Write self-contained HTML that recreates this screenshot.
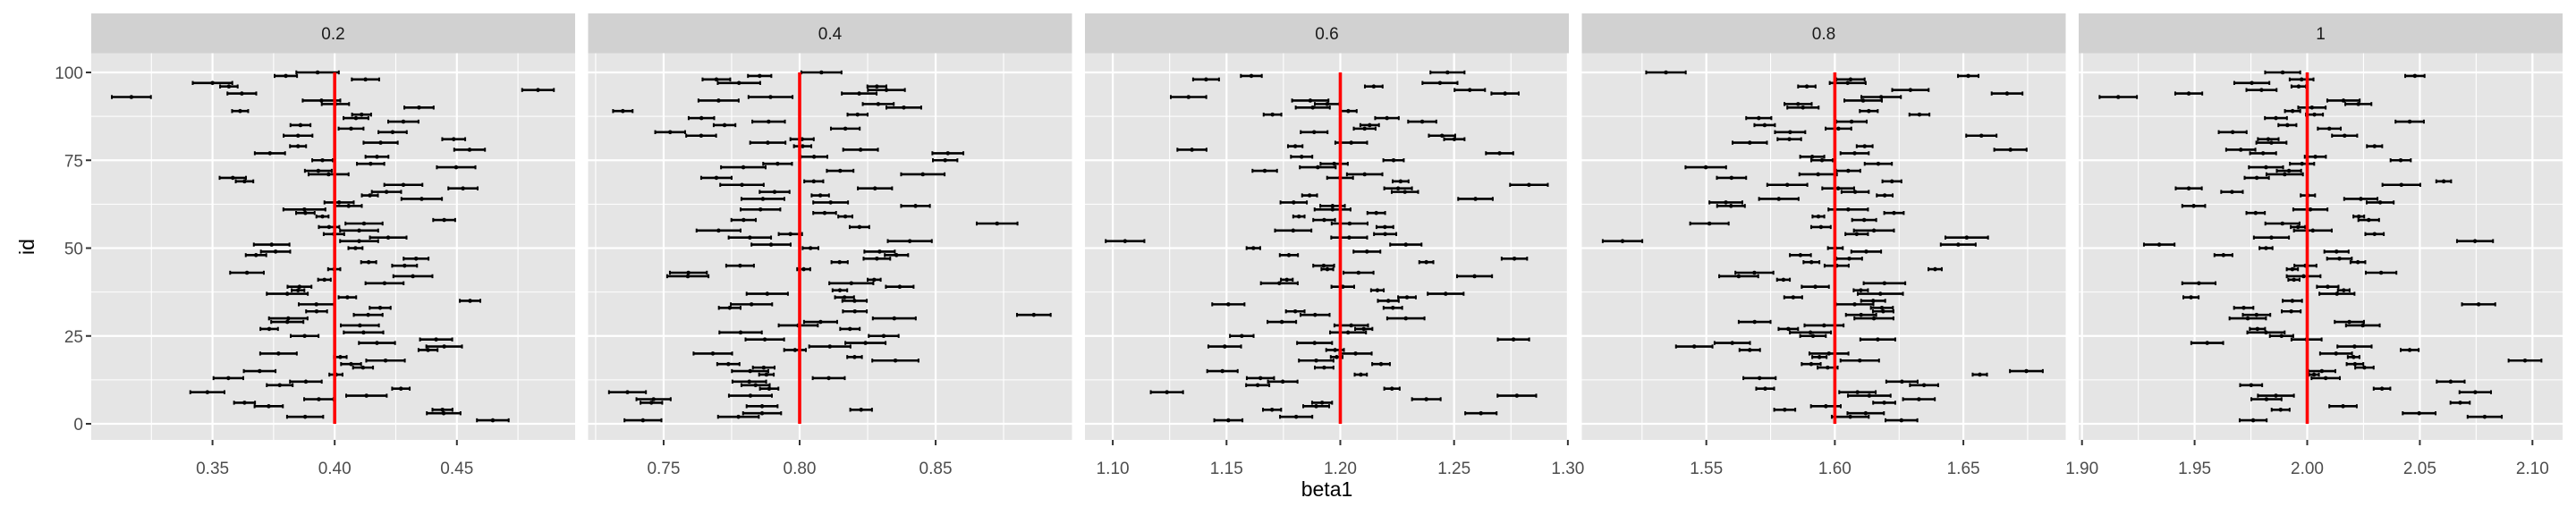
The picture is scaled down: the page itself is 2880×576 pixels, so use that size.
<!DOCTYPE html>
<html><head><meta charset="utf-8"><style>
html,body{margin:0;padding:0;background:#fff;}
svg{display:block;font-family:"Liberation Sans",Arial,sans-serif;}
</style></head><body>
<svg id="chart" width="2880" height="576" viewBox="0 0 2880 576" xmlns="http://www.w3.org/2000/svg"></svg>
<script>
// Facet labels, true values, axis ticks
const facetLabels = ["0.2","0.4","0.6","0.8","1"];
const trueValues = [0.40, 0.80, 1.20, 1.60, 2.00];
const xTicks = [[0.35,0.40,0.45],[0.75,0.80,0.85],[1.10,1.15,1.20,1.25,1.30],[1.55,1.60,1.65],[1.90,1.95,2.00,2.05,2.10]];
const xTickLabels = [["0.35","0.40","0.45"],["0.75","0.80","0.85"],["1.10","1.15","1.20","1.25","1.30"],["1.55","1.60","1.65"],["1.90","1.95","2.00","2.05","2.10"]];
const xDomains = [[0.30037,0.49839],[0.72223,0.90013],[1.08778,1.30044],[1.50157,1.68981],[1.89853,2.11338]];
const yTicks = [0,25,50,75,100];
// Estimates listed by id from 100 down to 1
const est1 = [.3930,.3800,.4126,.3500,.3567,.4832,.3620,.3168,.3946,.4003,.4345,.3613,.4110,.4087,.4281,.3860,.4067,.4237,.3850,.4487,.4188,.3850,.4552,.3735,.4173,.3950,.4147,.4497,.3933,.3975,.3583,.3631,.4281,.4525,.4212,.4144,.4356,.4018,.4057,.3876,.3880,.3950,.4448,.4120,.3977,.4100,.3997,.4219,.4100,.3742,.4085,.3758,.3678,.4333,.4139,.4286,.3998,.3641,.4320,.3958,.4204,.3856,.3850,.3806,.4052,.4554,.3925,.4186,.3926,.4137,.3810,.3806,.4103,.3732,.4118,.3877,.4415,.4173,.4448,.4382,.3770,.4023,.4208,.4067,.4116,.3693,.4005,.3565,.3882,.3775,.4271,.3479,.4130,.3935,.3631,.3730,.4441,.4446,.3879,.4647];
const half1 = [.0087,.0046,.0056,.0081,.0036,.0065,.0059,.0080,.0077,.0056,.0060,.0033,.0039,.0051,.0062,.0041,.0051,.0058,.0059,.0047,.0070,.0033,.0063,.0062,.0047,.0042,.0056,.0079,.0055,.0082,.0054,.0036,.0078,.0060,.0060,.0033,.0083,.0060,.0054,.0086,.0038,.0025,.0045,.0076,.0042,.0078,.0042,.0075,.0078,.0073,.0029,.0060,.0042,.0051,.0031,.0051,.0025,.0069,.0080,.0026,.0078,.0049,.0026,.0084,.0036,.0042,.0072,.0043,.0043,.0059,.0079,.0066,.0078,.0036,.0081,.0057,.0066,.0074,.0073,.0039,.0075,.0026,.0079,.0041,.0041,.0065,.0027,.0061,.0065,.0053,.0036,.0070,.0083,.0060,.0043,.0058,.0041,.0069,.0074,.0065];
const est2 = [.8080,.7853,.7694,.7777,.8284,.8319,.8219,.7893,.7702,.8289,.8383,.7350,.8213,.7639,.7886,.7724,.8168,.7524,.7638,.8009,.7883,.8011,.8224,.8545,.8053,.8535,.7919,.7793,.8149,.8453,.7694,.8052,.7788,.8277,.7908,.8076,.7865,.8114,.8426,.7856,.8092,.8168,.7794,.8726,.8220,.7702,.7966,.7817,.8405,.7895,.8040,.8294,.8356,.8284,.8147,.7781,.8015,.7591,.7589,.8274,.8190,.8368,.8148,.7881,.8165,.8202,.7823,.7743,.8203,.8861,.8348,.8077,.7995,.8185,.7783,.8309,.7872,.8242,.8111,.7983,.7681,.8202,.8352,.7738,.7868,.7818,.7878,.8107,.7815,.7838,.7888,.7367,.7819,.7463,.7455,.7862,.8226,.7862,.7775,.7424];
const half2 = [.0074,.0043,.0051,.0078,.0035,.0068,.0064,.0081,.0074,.0057,.0064,.0036,.0037,.0047,.0060,.0040,.0053,.0055,.0055,.0043,.0065,.0032,.0064,.0057,.0049,.0045,.0053,.0082,.0049,.0080,.0056,.0035,.0080,.0063,.0055,.0032,.0079,.0064,.0053,.0073,.0042,.0026,.0045,.0075,.0036,.0081,.0043,.0078,.0081,.0072,.0029,.0056,.0043,.0049,.0030,.0051,.0024,.0068,.0076,.0024,.0081,.0051,.0027,.0076,.0035,.0045,.0076,.0040,.0044,.0062,.0079,.0061,.0072,.0036,.0078,.0055,.0071,.0074,.0076,.0040,.0071,.0027,.0085,.0041,.0040,.0067,.0027,.0059,.0062,.0052,.0034,.0068,.0079,.0063,.0040,.0057,.0040,.0070,.0075,.0068];
const est3 = [1.2471,1.1609,1.1410,1.2438,1.2147,1.2569,1.2724,1.1333,1.1868,1.1942,1.1879,1.2035,1.1702,1.2205,1.2360,1.2129,1.2107,1.1885,1.2447,1.2501,1.2048,1.1802,1.1348,1.2700,1.1830,1.2234,1.1973,1.1901,1.1668,1.2107,1.1999,1.2265,1.2829,1.2254,1.2284,1.1865,1.2594,1.1795,1.1966,1.1966,1.2158,1.1818,1.1929,1.2041,1.2196,1.1793,1.2197,1.2039,1.1054,1.2288,1.1618,1.2117,1.1774,1.2765,1.2378,1.1927,1.1943,1.2080,1.2590,1.1765,1.1732,1.2011,1.2163,1.2463,1.2293,1.2211,1.1508,1.2231,1.1802,1.1889,1.2288,1.1743,1.2048,1.2103,1.2034,1.1567,1.2761,1.1887,1.1492,1.1977,1.2067,1.1984,1.1894,1.2179,1.1929,1.1482,1.2090,1.1649,1.1747,1.1637,1.2227,1.1238,1.2776,1.2378,1.1920,1.1894,1.1700,1.2618,1.1806,1.1508];
const half3 = [.0075,.0046,.0057,.0077,.0039,.0067,.0060,.0078,.0080,.0054,.0075,.0037,.0039,.0052,.0062,.0041,.0048,.0059,.0058,.0045,.0070,.0032,.0064,.0060,.0047,.0045,.0060,.0079,.0054,.0078,.0057,.0035,.0083,.0061,.0058,.0033,.0076,.0058,.0054,.0079,.0039,.0025,.0048,.0079,.0037,.0080,.0049,.0079,.0085,.0069,.0030,.0059,.0040,.0056,.0031,.0046,.0026,.0066,.0077,.0026,.0081,.0050,.0028,.0079,.0039,.0046,.0071,.0041,.0041,.0064,.0082,.0063,.0074,.0038,.0079,.0052,.0069,.0077,.0072,.0039,.0071,.0026,.0076,.0039,.0041,.0067,.0027,.0060,.0065,.0051,.0034,.0071,.0085,.0063,.0044,.0057,.0040,.0069,.0071,.0062];
const est4 = [1.5343,1.6519,1.6061,1.6050,1.5891,1.6294,1.6670,1.6180,1.6110,1.5857,1.5876,1.6132,1.6329,1.5704,1.6065,1.5727,1.6014,1.5826,1.6570,1.5823,1.5669,1.6116,1.6683,1.6077,1.5912,1.5950,1.6169,1.5498,1.6052,1.5935,1.5598,1.6222,1.5815,1.6013,1.6079,1.6194,1.5782,1.5576,1.5596,1.6052,1.6230,1.5936,1.6114,1.5512,1.5946,1.6152,1.6085,1.6513,1.5174,1.6480,1.6002,1.6122,1.5866,1.6056,1.5909,1.6007,1.6390,1.5687,1.5626,1.5800,1.6193,1.5924,1.6101,1.6177,1.5838,1.6149,1.6077,1.6183,1.6188,1.6102,1.6152,1.5688,1.5958,1.5819,1.5905,1.5915,1.6167,1.5601,1.5453,1.5669,1.5977,1.5940,1.6097,1.5908,1.5972,1.6745,1.6564,1.5707,1.6261,1.6347,1.5729,1.6088,1.6134,1.6327,1.6192,1.5965,1.5805,1.6120,1.6060,1.6259];
const half4 = [.0077,.0040,.0055,.0070,.0034,.0071,.0060,.0077,.0073,.0053,.0061,.0035,.0039,.0049,.0059,.0040,.0050,.0059,.0059,.0046,.0067,.0031,.0063,.0055,.0047,.0042,.0053,.0079,.0047,.0073,.0057,.0037,.0078,.0062,.0053,.0031,.0077,.0064,.0054,.0077,.0038,.0023,.0047,.0075,.0038,.0078,.0044,.0083,.0077,.0068,.0029,.0058,.0041,.0050,.0031,.0047,.0026,.0074,.0076,.0025,.0081,.0053,.0028,.0088,.0035,.0047,.0073,.0043,.0040,.0059,.0076,.0062,.0076,.0038,.0080,.0050,.0068,.0069,.0071,.0040,.0076,.0028,.0075,.0037,.0039,.0064,.0028,.0063,.0061,.0055,.0035,.0071,.0083,.0062,.0043,.0058,.0041,.0071,.0072,.0062];
const est5 = [1.9891,2.0478,1.9975,1.9754,1.9962,1.9797,1.9474,1.9161,2.0161,2.0227,2.0021,1.9935,2.0032,1.9861,2.0455,1.9912,2.0098,1.9669,2.0166,1.9827,1.9841,2.0299,1.9705,1.9804,2.0036,2.0415,1.9977,1.9817,1.9919,1.9900,1.9776,2.0606,2.0418,1.9474,1.9666,2.0003,2.0238,2.0324,1.9496,2.0014,1.9771,2.0229,2.0273,1.9890,1.9959,2.0025,2.0299,1.9841,2.0745,1.9343,1.9817,2.0130,1.9628,2.0143,2.0225,1.9992,1.9934,2.0328,1.9984,1.9941,1.9519,2.0091,2.0162,2.0132,1.9484,1.9934,2.0761,1.9718,1.9929,1.9775,1.9736,2.0187,2.0247,1.9779,1.9817,1.9886,1.9997,1.9556,2.0210,2.0455,2.0128,2.0206,2.0967,2.0212,2.0254,2.0065,2.0030,2.0082,2.0637,1.9751,2.0332,2.0746,1.9861,1.9819,2.0679,2.0159,1.9882,2.0497,2.0788,1.9760];
const half5 = [.0078,.0043,.0053,.0078,.0032,.0067,.0060,.0083,.0072,.0058,.0061,.0034,.0038,.0049,.0063,.0040,.0051,.0062,.0056,.0046,.0067,.0034,.0065,.0058,.0047,.0045,.0054,.0076,.0054,.0081,.0054,.0033,.0084,.0058,.0048,.0032,.0074,.0060,.0051,.0076,.0041,.0024,.0046,.0076,.0032,.0084,.0041,.0078,.0080,.0068,.0029,.0054,.0040,.0055,.0033,.0049,.0025,.0068,.0075,.0025,.0074,.0048,.0026,.0078,.0034,.0043,.0074,.0043,.0042,.0061,.0081,.0065,.0075,.0034,.0083,.0052,.0067,.0071,.0076,.0040,.0071,.0026,.0073,.0037,.0041,.0060,.0022,.0063,.0062,.0049,.0037,.0070,.0080,.0067,.0043,.0061,.0040,.0073,.0076,.0060];

const estimates = [est1, est2, est3, est4, est5];
const halfWidths = [half1, half2, half3, half4, half5];

const NS = "http://www.w3.org/2000/svg";
const svg = document.getElementById("chart");
function mk(tag, attrs, parent) {
  const e = document.createElementNS(NS, tag);
  for (const k in attrs) e.setAttribute(k, attrs[k]);
  (parent || svg).appendChild(e);
  return e;
}
const PANEL_W = 541, PANEL_STEP = 555.5, PANEL_X0 = 102;
const PLOT_TOP = 59.5, PLOT_BOTTOM = 492, STRIP_TOP = 15;
function yScale(v) { return 474 - v * 3.93; }

for (let p = 0; p < 5; p++) {
  const left = PANEL_X0 + p * PANEL_STEP;
  const dom = xDomains[p];
  const xs = v => left + (v - dom[0]) / (dom[1] - dom[0]) * PANEL_W;
  const g = mk("g", {});
  
  

  const bg = mk("rect", {x: left, y: PLOT_TOP, width: PANEL_W, height: PLOT_BOTTOM - PLOT_TOP, fill: "#e5e5e5"}, g);
  
  

  const ticks = xTicks[p];
  const step = ticks[1] - ticks[0];
  for (let v = ticks[0] - step * 2.5; v <= dom[1] + 1e-9; v += step) {
    if (v < dom[0]) continue;
    const l = mk("line", {x1: xs(v), x2: xs(v), y1: PLOT_TOP, y2: PLOT_BOTTOM, stroke: "#fff", "stroke-width": 1.1}, g);
    
    
  }
  for (let v = 12.5; v < 105; v += 25) {
    const l = mk("line", {x1: left, x2: left + PANEL_W, y1: yScale(v), y2: yScale(v), stroke: "#fff", "stroke-width": 1.1}, g);
    
    
  }
  ticks.forEach(v => {
    const l = mk("line", {x1: xs(v), x2: xs(v), y1: PLOT_TOP, y2: PLOT_BOTTOM, stroke: "#fff", "stroke-width": 2.2}, g);
    
    
  });
  yTicks.forEach(v => {
    const l = mk("line", {x1: left, x2: left + PANEL_W, y1: yScale(v), y2: yScale(v), stroke: "#fff", "stroke-width": 2.2}, g);
    
    
  });

  const strip = mk("rect", {x: left, y: STRIP_TOP, width: PANEL_W, height: PLOT_TOP - STRIP_TOP, fill: "#d1d1d1"}, g);
  
  
  const st = mk("text", {x: left + PANEL_W / 2, y: 44, "text-anchor": "middle", "font-size": 19, fill: "#1a1a1a"}, g);
  st.textContent = facetLabels[p];
  
  

  const est = estimates[p], hw = halfWidths[p];
  for (let i = 0; i < est.length; i++) {
    const id = 100 - i;
    const y = yScale(id);
    const x1 = xs(est[i] - hw[i]), x2 = xs(est[i] + hw[i]);
    const bar = mk("g", {}, g);
    
    
    mk("line", {x1: x1, x2: x2, y1: y, y2: y, stroke: "#000", "stroke-width": 2.6}, bar);
    mk("line", {x1: x1, x2: x1, y1: y - 2.2, y2: y + 2.2, stroke: "#000", "stroke-width": 2}, bar);
    mk("line", {x1: x2, x2: x2, y1: y - 2.2, y2: y + 2.2, stroke: "#000", "stroke-width": 2}, bar);
    mk("circle", {cx: xs(est[i]), cy: y, r: 2.3, fill: "#000"}, bar);
  }

  const tv = mk("line", {x1: xs(trueValues[p]), x2: xs(trueValues[p]), y1: yScale(0), y2: yScale(100), stroke: "#ff0000", "stroke-width": 3.6}, g);
  
  

  ticks.forEach((v, k) => {
    const t = mk("line", {x1: xs(v), x2: xs(v), y1: PLOT_BOTTOM, y2: PLOT_BOTTOM + 6, stroke: "#333", "stroke-width": 2}, g);
    
    
    const tl = mk("text", {x: xs(v), y: 530, "text-anchor": "middle", "font-size": 19, fill: "#4d4d4d"}, g);
    tl.textContent = xTickLabels[p][k];
    
    
  });
}

yTicks.forEach(v => {
  const t = mk("line", {x1: PANEL_X0 - 6, x2: PANEL_X0, y1: yScale(v), y2: yScale(v), stroke: "#333", "stroke-width": 2});
  
  
  const tl = mk("text", {x: PANEL_X0 - 9, y: yScale(v) + 7, "text-anchor": "end", "font-size": 19, fill: "#4d4d4d"});
  tl.textContent = String(v);
  
  
});

const xt = mk("text", {x: PANEL_X0 + (4 * PANEL_STEP + PANEL_W) / 2, y: 555, "text-anchor": "middle", "font-size": 23, fill: "#000"});
xt.textContent = "beta1";


const yt = mk("text", {x: 0, y: 0, "text-anchor": "middle", "font-size": 23, fill: "#000", transform: "translate(38,276) rotate(-90)"});
yt.textContent = "id";


</script>
</body></html>
